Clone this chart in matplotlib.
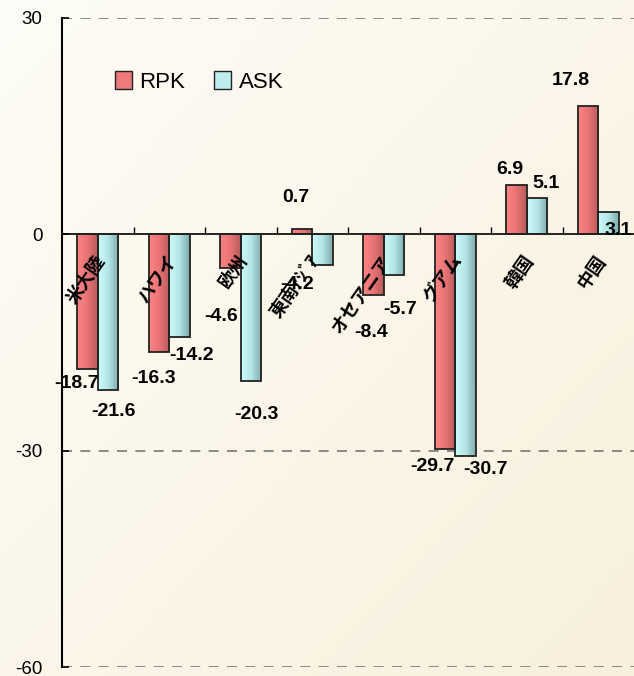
import numpy as np
import matplotlib.pyplot as plt
from matplotlib.colors import LinearSegmentedColormap
from matplotlib.patches import Patch

plt.rcParams['font.family'] = ['Liberation Sans', 'Noto Sans CJK JP', 'DejaVu Sans']

# data
categories = ['米大陸', 'ハワイ', '欧州', '東南ｱｼﾞｱ', 'オセアニア', 'グアム', '韓国', '中国']
rpk = [-18.7, -16.3, -4.6, 0.7, -8.4, -29.7, 6.9, 17.8]
ask = [-21.6, -14.2, -20.3, -4.2, -5.7, -30.7, 5.1, 3.1]
yticks = [30, 0, -30, -60]

rpk_off = [(-11, -14), (-5, -27), (-9, -49), (-6, 32), (-2, -38), (-13, -18), (-7, 15), (-17, 25)]
ask_off = [(6, -21), (12, -19), (5, -34), (-25, -20), (6, -34), (20, -14), (9, 14), (10, -19)]

fig = plt.figure(figsize=(6.34, 6.76), dpi=100)
fig.patch.set_facecolor('#FCF9EF')

# background gradient
bgax = fig.add_axes([0, 0, 1, 1], zorder=-10)
grad = np.add.outer(np.linspace(0, 1, 200), np.linspace(0, 1, 200)) / 2
bgcmap = LinearSegmentedColormap.from_list('bg', ['#FDFCF6', '#F8F0DC'])
bgax.imshow(grad, cmap=bgcmap, aspect='auto', extent=[0, 1, 0, 1], origin='upper')
bgax.axis('off')

ax = fig.add_axes([62/634, 9/676, 572/634, 649/676])
ax.set_facecolor('none')

x = np.arange(len(categories))
w = 0.285
red_cmap = LinearSegmentedColormap.from_list('r', ['#FF8484', '#E87474', '#B85C5C'])
cyan_cmap = LinearSegmentedColormap.from_list('c', ['#CCFAFA', '#B4E6E6', '#7EAAAA'])

def grad_bars(bars, cmap):
    row = np.linspace(0, 1, 64).reshape(1, -1)
    for b in bars:
        x0, y0 = b.get_x(), b.get_y()
        im = ax.imshow(row, cmap=cmap, aspect='auto', zorder=2,
                       extent=[x0, x0 + b.get_width(), y0, y0 + b.get_height()])
        im.set_clip_path(b)

b1 = ax.bar(x - w/2, rpk, w, facecolor='none', edgecolor='#222222', linewidth=1.3, zorder=3)
b2 = ax.bar(x + w/2, ask, w, facecolor='none', edgecolor='#222222', linewidth=1.3, zorder=3)
grad_bars(b1, red_cmap)
grad_bars(b2, cyan_cmap)

for bars, vals, offs in ((b1, rpk, rpk_off), (b2, ask, ask_off)):
    for b, v, (dx, dy) in zip(bars, vals, offs):
        ax.annotate('%.1f' % v, (b.get_x() + b.get_width()/2, v),
                    xytext=(dx, dy), textcoords='offset pixels',
                    ha='center', va='center', fontsize=14, fontweight='bold', zorder=5)

# category labels below zero line
for xi, c in zip(x, categories):
    ax.text(xi - 0.06, -2.4, c, rotation=55, rotation_mode='anchor', ha='right', va='top',
            fontsize=13, fontweight='bold', family=['Noto Sans CJK JP', 'DejaVu Sans'], zorder=5)

ax.set_xlim(-0.5, len(categories) - 0.5)
ax.set_ylim(-60, 30)
ax.set_yticks(yticks)
ax.set_yticklabels([str(t) for t in yticks], fontsize=13.5)
ax.tick_params(axis='y', direction='in', length=5, pad=14, width=1.2)

for t in (30, -30, -60):
    ax.axhline(t, color='#777777', linestyle=(0, (6, 5)), linewidth=1.2, zorder=1)

ax.spines['bottom'].set_position(('data', 0))
ax.spines['bottom'].set_linewidth(1.2)
ax.spines['left'].set_linewidth(1.5)
for s in ('top', 'right'):
    ax.spines[s].set_visible(False)
ax.set_xticks(np.arange(0.5, len(categories) - 0.5, 1.0))
ax.set_xticklabels([])
ax.tick_params(axis='x', direction='in', length=5, width=1)

handles = [Patch(facecolor='#EE7A7A', edgecolor='#222222', label='RPK'),
           Patch(facecolor='#BCECEC', edgecolor='#222222', label='ASK')]
ax.legend(handles=handles, loc='center left', bbox_to_anchor=(0.058, 0.902), ncol=2, frameon=False,
          fontsize=16, handlelength=0.75, handleheight=0.9, handletextpad=0.35, columnspacing=1.3)

plt.savefig('out.png', dpi=100)
